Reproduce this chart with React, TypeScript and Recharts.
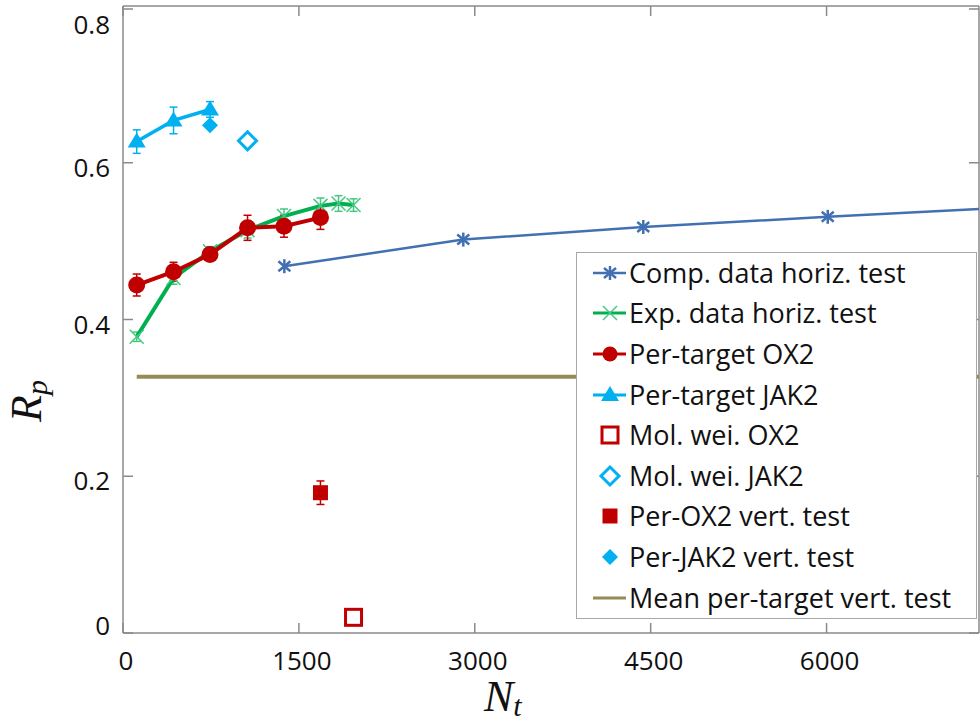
import React from 'react';
import { ScatterChart, Scatter, XAxis, YAxis, ErrorBar } from 'recharts';

const xTicks = [0, 1500, 3000, 4500, 6000];
const yTicks = [0, 0.2, 0.4, 0.6, 0.8];

// Comp. data horiz. test (last point lies past the right edge)
const compNt = [1376, 2902, 4437, 6010, 7500];
const compRp = [0.468, 0.502, 0.518, 0.531, 0.5425];

// Exp. data horiz. test
const expNt = [117, 431, 742, 1062, 1373, 1684, 1838, 1966];
const expRp = [0.378, 0.453, 0.487, 0.514, 0.532, 0.545, 0.548, 0.546];
const expErr = [0.006, 0.008, 0.006, 0.01, 0.009, 0.01, 0.01, 0.008];

// Per-target OX2
const ox2Nt = [117, 431, 742, 1062, 1373, 1684];
const ox2Rp = [0.444, 0.461, 0.483, 0.517, 0.519, 0.53];
const ox2Err = [0.014, 0.012, 0.008, 0.016, 0.014, 0.015];

// Per-target JAK2
const jak2Nt = [117, 431, 742];
const jak2Rp = [0.627, 0.654, 0.668];
const jak2Err = [0.015, 0.017, 0.01];

// single points
const molOx2Nt = [1966];
const molOx2Rp = [0.02];
const molJak2Nt = [1062];
const molJak2Rp = [0.628];
const vertOx2Nt = [1684];
const vertOx2Rp = [0.179];
const vertOx2Err = [0.015];
const vertJak2Nt = [742];
const vertJak2Rp = [0.648];

// Mean per-target vert. test (flat line from first Nt to the right edge)
const meanNt = [117, 7300];
const meanRp = [0.327, 0.327];

const RED = '#C00000';
const CYAN = '#00B0F0';
const GREEN = '#00B050';
const GREEN_LT = '#45C881';
const BLUE = '#4271B3';
const OLIVE = '#968B57';
const AXIS = '#8A8A8A';
const FONT = '"Open Sans", Lato, sans-serif';
const SERIF = '"Liberation Serif", serif';

const pts = (xs: number[], ys: number[], errs?: number[]) =>
  xs.map((x, i) => ({ x, y: ys[i], err: errs ? errs[i] : 0 }));

// marker drawers
const star = (cx: number, cy: number) => (
  <g stroke={BLUE} strokeWidth={2.5}>
    <line x1={cx} y1={cy - 7} x2={cx} y2={cy + 7} />
    <line x1={cx - 6} y1={cy - 5} x2={cx + 6} y2={cy + 5} />
    <line x1={cx - 6} y1={cy + 5} x2={cx + 6} y2={cy - 5} />
  </g>
);
const cross = (cx: number, cy: number) => (
  <g stroke={GREEN_LT} strokeWidth={1.5}>
    <line x1={cx - 7} y1={cy - 7} x2={cx + 7} y2={cy + 7} />
    <line x1={cx - 7} y1={cy + 7} x2={cx + 7} y2={cy - 7} />
  </g>
);
const dot = (cx: number, cy: number, r = 8.5) => <circle cx={cx} cy={cy} r={r} fill={RED} />;
const tri = (cx: number, cy: number) => (
  <polygon points={`${cx},${cy - 9} ${cx + 9},${cy + 6} ${cx - 9},${cy + 6}`} fill={CYAN} />
);
const diamond = (cx: number, cy: number, open: boolean) =>
  open ? (
    <polygon points={`${cx},${cy - 9} ${cx + 9},${cy} ${cx},${cy + 9} ${cx - 9},${cy}`} fill="#fff" stroke={CYAN} strokeWidth={3} />
  ) : (
    <polygon points={`${cx},${cy - 8} ${cx + 8},${cy} ${cx},${cy + 8} ${cx - 8},${cy}`} fill={CYAN} />
  );
const square = (cx: number, cy: number, open: boolean) =>
  open ? (
    <rect x={cx - 8} y={cy - 8} width={16} height={16} fill="#fff" stroke={RED} strokeWidth={3} />
  ) : (
    <rect x={cx - 7.5} y={cy - 7.5} width={15} height={15} fill={RED} />
  );

const BottomTick = ({ x, y, payload }: any) => (
  <g>
    <line x1={x} y1={y} x2={x} y2={y - 10} stroke={AXIS} strokeWidth={1.5} />
    <text x={x + 3} y={y + 37} textAnchor="middle" fontSize={26} fontFamily={FONT} fill="#111">
      {payload.value}
    </text>
  </g>
);
const TopTick = ({ x, y }: any) => <line x1={x} y1={y} x2={x} y2={y + 10} stroke={AXIS} strokeWidth={1.5} />;
const LeftTick = ({ x, y, payload }: any) => {
  const v = payload.value;
  const dy = v === 0.8 ? 24.5 : v === 0 ? 1.5 : 14;
  return (
    <g>
      <line x1={x} y1={y} x2={x + 10} y2={y} stroke={AXIS} strokeWidth={1.5} />
      <text x={110} y={y + dy} textAnchor="end" fontSize={26} fontFamily={FONT} fill="#111">
        {v}
      </text>
    </g>
  );
};
const RightTick = ({ x, y }: any) => <line x1={x} y1={y} x2={x - 10} y2={y} stroke={AXIS} strokeWidth={1.5} />;

const XTitle = () => (
  <text x={484} y={711} fontSize={44} fontStyle="italic" fontFamily={SERIF} fill="#111">
    N
    <tspan fontSize={30} dy={5}>t</tspan>
  </text>
);
const YTitle = () => (
  <text
    x={41}
    y={401}
    transform="rotate(-90 41 401)"
    textAnchor="middle"
    fontSize={44}
    fontStyle="italic"
    fontFamily={SERIF}
    fill="#111"
  >
    R
    <tspan fontSize={30} dy={6}>p</tspan>
  </text>
);

const legendItems = [
  { name: 'Comp. data horiz. test', line: BLUE, lw: 2.5, mark: (cx: number, cy: number) => star(cx, cy) },
  { name: 'Exp. data horiz. test', line: GREEN, lw: 3, mark: (cx: number, cy: number) => cross(cx, cy) },
  { name: 'Per-target OX2', line: RED, lw: 3, mark: (cx: number, cy: number) => dot(cx, cy, 7.5) },
  { name: 'Per-target JAK2', line: CYAN, lw: 3, mark: (cx: number, cy: number) => tri(cx, cy) },
  { name: 'Mol. wei. OX2', line: null, lw: 0, mark: (cx: number, cy: number) => square(cx, cy, true) },
  { name: 'Mol. wei. JAK2', line: null, lw: 0, mark: (cx: number, cy: number) => diamond(cx, cy, true) },
  { name: 'Per-OX2 vert. test', line: null, lw: 0, mark: (cx: number, cy: number) => square(cx, cy, false) },
  { name: 'Per-JAK2 vert. test', line: null, lw: 0, mark: (cx: number, cy: number) => diamond(cx, cy, false) },
  { name: 'Mean per-target vert. test', line: OLIVE, lw: 3, mark: null },
];

function ChartLegend() {
  return (
    <div
      style={{
        position: 'absolute',
        left: 576,
        top: 252,
        width: 401,
        height: 367,
        boxSizing: 'border-box',
        border: '1.5px solid #A8A8A8',
        background: '#fff',
      }}
    >
      {legendItems.map((it, i) => (
        <div
          key={it.name}
          style={{
            position: 'absolute',
            left: 0,
            top: 19.7 + i * 40.6 - 20,
            height: 40,
            display: 'flex',
            alignItems: 'center',
            whiteSpace: 'nowrap',
          }}
        >
          <svg width={52} height={40} style={{ flex: 'none' }}>
            {it.line && <line x1={16} y1={20} x2={49} y2={20} stroke={it.line} strokeWidth={it.lw} />}
            {it.mark && it.mark(33, 20)}
          </svg>
          <span style={{ fontFamily: FONT, fontSize: 27, color: '#111', lineHeight: '40px' }}>{it.name}</span>
        </div>
      ))}
    </div>
  );
}

export default function App() {
  return (
    <div style={{ position: 'absolute', left: 0, top: 0, width: 980, height: 724, background: '#fff' }}>
      <ScatterChart width={980} height={724} margin={{ top: 5, right: 0, bottom: 0, left: 0 }}>
        <XAxis
          type="number"
          dataKey="x"
          domain={[0, 7300]}
          ticks={xTicks}
          allowDataOverflow
          height={91}
          tickSize={0}
          tickMargin={0}
          tickLine={false}
          axisLine={{ stroke: AXIS, strokeWidth: 1.5 }}
          tick={BottomTick}
          label={XTitle}
        />
        <XAxis
          xAxisId="top"
          orientation="top"
          type="number"
          dataKey="x"
          domain={[0, 7300]}
          ticks={xTicks}
          allowDataOverflow
          height={1}
          tickSize={0}
          tickMargin={0}
          tickLine={false}
          axisLine={{ stroke: AXIS, strokeWidth: 1.5 }}
          tick={TopTick}
        />
        <YAxis
          type="number"
          dataKey="y"
          domain={[0, 0.8]}
          ticks={yTicks}
          allowDataOverflow
          width={123}
          tickSize={0}
          tickMargin={0}
          tickLine={false}
          axisLine={{ stroke: AXIS, strokeWidth: 1.5 }}
          tick={LeftTick}
          label={YTitle}
        />
        <YAxis
          yAxisId="right"
          orientation="right"
          type="number"
          dataKey="y"
          domain={[0, 0.8]}
          ticks={yTicks}
          allowDataOverflow
          width={1}
          tickSize={0}
          tickMargin={0}
          tickLine={false}
          axisLine={{ stroke: AXIS, strokeWidth: 1.5 }}
          tick={RightTick}
        />
        <Scatter
          name="Mean per-target vert. test"
          xAxisId="top"
          yAxisId="right"
          data={pts(meanNt, meanRp)}
          line={{ stroke: OLIVE, strokeWidth: 4 }}
          shape={() => <g />}
          isAnimationActive={false}
        />
        <Scatter
          name="Comp. data horiz. test"
          data={pts(compNt, compRp)}
          line={{ stroke: BLUE, strokeWidth: 2.5 }}
          shape={(p: any) => star(p.cx, p.cy)}
          isAnimationActive={false}
        />
        <Scatter
          name="Exp. data horiz. test"
          data={pts(expNt, expRp, expErr)}
          line={{ stroke: GREEN, strokeWidth: 4 }}
          shape={(p: any) => cross(p.cx, p.cy)}
          isAnimationActive={false}
        >
          <ErrorBar dataKey="err" direction="y" width={4} stroke={GREEN_LT} strokeWidth={1.5} />
        </Scatter>
        <Scatter
          name="Per-target OX2"
          data={pts(ox2Nt, ox2Rp, ox2Err)}
          line={{ stroke: RED, strokeWidth: 4 }}
          shape={(p: any) => dot(p.cx, p.cy)}
          isAnimationActive={false}
        >
          <ErrorBar dataKey="err" direction="y" width={4} stroke={RED} strokeWidth={1.5} />
        </Scatter>
        <Scatter
          name="Per-target JAK2"
          data={pts(jak2Nt, jak2Rp, jak2Err)}
          line={{ stroke: CYAN, strokeWidth: 3.5 }}
          shape={(p: any) => tri(p.cx, p.cy)}
          isAnimationActive={false}
        >
          <ErrorBar dataKey="err" direction="y" width={4} stroke={CYAN} strokeWidth={1.5} />
        </Scatter>
        <Scatter
          name="Mol. wei. OX2"
          data={pts(molOx2Nt, molOx2Rp)}
          shape={(p: any) => square(p.cx, p.cy, true)}
          isAnimationActive={false}
        />
        <Scatter
          name="Mol. wei. JAK2"
          data={pts(molJak2Nt, molJak2Rp)}
          shape={(p: any) => diamond(p.cx, p.cy, true)}
          isAnimationActive={false}
        />
        <Scatter
          name="Per-OX2 vert. test"
          data={pts(vertOx2Nt, vertOx2Rp, vertOx2Err)}
          shape={(p: any) => square(p.cx, p.cy, false)}
          isAnimationActive={false}
        >
          <ErrorBar dataKey="err" direction="y" width={4} stroke={RED} strokeWidth={1.5} />
        </Scatter>
        <Scatter
          name="Per-JAK2 vert. test"
          data={pts(vertJak2Nt, vertJak2Rp)}
          shape={(p: any) => diamond(p.cx, p.cy, false)}
          isAnimationActive={false}
        />
      </ScatterChart>
      <ChartLegend />
    </div>
  );
}
